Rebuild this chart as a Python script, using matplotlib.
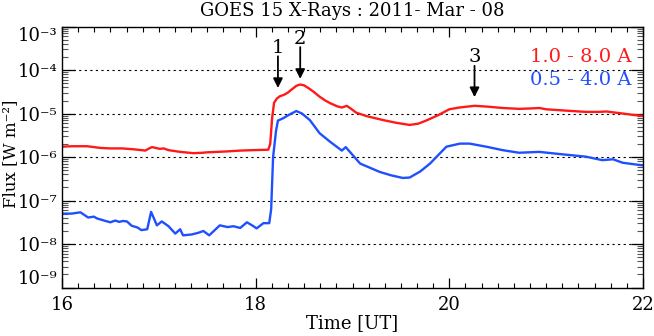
import numpy as np
import matplotlib
matplotlib.use("Agg")
import matplotlib.pyplot as plt
from matplotlib.ticker import MultipleLocator, LogLocator, FixedLocator, NullFormatter

plt.rcParams['font.family'] = ['DejaVu Serif']
plt.rcParams['mathtext.fontset'] = 'dejavuserif'

# 1.0 - 8.0 A channel (time in UT hours, log10 flux)
red_time = [16.00, 16.10, 16.26, 16.40, 16.50, 16.62, 16.74, 16.86, 16.90, 16.93,
            16.97, 17.01, 17.05, 17.10, 17.22, 17.36, 17.45, 17.50, 17.60, 17.70,
            17.84, 17.97, 18.13, 18.15, 18.17, 18.19, 18.22, 18.25, 18.29, 18.33,
            18.38, 18.42, 18.46, 18.50, 18.55, 18.60, 18.66, 18.72, 18.77, 18.84,
            18.89, 18.94, 18.98, 19.04, 19.15, 19.32, 19.45, 19.59, 19.68, 19.76,
            19.88, 20.00, 20.10, 20.26, 20.40, 20.55, 20.72, 20.85, 20.93, 21.00,
            21.20, 21.41, 21.55, 21.62, 21.69, 21.80, 21.90, 22.00]
red_log10 = [-5.76, -5.75, -5.75, -5.79, -5.80, -5.80, -5.82, -5.85, -5.80, -5.77,
             -5.79, -5.81, -5.80, -5.84, -5.88, -5.91, -5.90, -5.89, -5.88, -5.87,
             -5.85, -5.84, -5.83, -5.70, -5.10, -4.75, -4.65, -4.60, -4.57, -4.52,
             -4.43, -4.36, -4.33, -4.35, -4.42, -4.50, -4.61, -4.70, -4.76, -4.83,
             -4.86, -4.82, -4.88, -4.98, -5.06, -5.15, -5.21, -5.26, -5.23, -5.16,
             -5.04, -4.90, -4.86, -4.82, -4.84, -4.87, -4.89, -4.88, -4.87, -4.90,
             -4.93, -4.96, -4.96, -4.95, -4.97, -5.00, -5.03, -5.05]

# 0.5 - 4.0 A channel
blue_time = [16.00, 16.10, 16.19, 16.27, 16.33, 16.36, 16.45, 16.50, 16.55, 16.59,
             16.63, 16.67, 16.72, 16.78, 16.82, 16.88, 16.92, 16.98, 17.03, 17.10,
             17.17, 17.22, 17.25, 17.34, 17.41, 17.46, 17.52, 17.63, 17.71, 17.77,
             17.84, 17.91, 17.97, 18.01, 18.08, 18.14, 18.16, 18.18, 18.21, 18.23,
             18.28, 18.35, 18.42, 18.48, 18.56, 18.66, 18.77, 18.89, 18.93, 19.04,
             19.08, 19.28, 19.40, 19.52, 19.59, 19.70, 19.80, 19.97, 20.11, 20.21,
             20.38, 20.55, 20.72, 20.93, 21.14, 21.41, 21.58, 21.69, 21.79, 21.96,
             22.00]
blue_log10 = [-7.30, -7.30, -7.27, -7.39, -7.37, -7.41, -7.47, -7.50, -7.46, -7.49,
              -7.47, -7.48, -7.58, -7.62, -7.68, -7.66, -7.26, -7.57, -7.48, -7.59,
              -7.76, -7.66, -7.80, -7.78, -7.74, -7.70, -7.80, -7.57, -7.61, -7.59,
              -7.63, -7.50, -7.58, -7.64, -7.52, -7.52, -7.20, -6.00, -5.40, -5.16,
              -5.11, -5.02, -4.94, -5.00, -5.15, -5.45, -5.65, -5.85, -5.77, -6.05,
              -6.15, -6.34, -6.42, -6.48, -6.47, -6.33, -6.15, -5.76, -5.69, -5.69,
              -5.76, -5.84, -5.90, -5.88, -5.93, -5.99, -6.07, -6.05, -6.13, -6.18,
              -6.19]

# annotations: label, time, text level, arrow tail, arrow tip (log10 flux)
ann_labels = ['1', '2', '3']
ann_time = [18.23, 18.46, 20.26]
ann_text_log = [-3.49, -3.28, -3.70]
ann_tail_log = [-3.68, -3.47, -3.90]
ann_tip_log = [-4.41, -4.20, -4.62]

x_ticks = [16, 18, 20, 22]
y_ticks = [1e-9, 1e-8, 1e-7, 1e-6, 1e-5, 1e-4, 1e-3]
y_tick_labels = ['10\u207b\u2079', '10\u207b\u2078', '10\u207b\u2077', '10\u207b\u2076',
                 '10\u207b\u2075', '10\u207b\u2074', '10\u207b\u00b3']

RED = '#ff1a1a'
BLUE = '#1f4fff'

fig = plt.figure(figsize=(6.54, 3.36), dpi=100)
ax = fig.add_axes([62/654, 1-287.5/336, 581/654, 260.8/336])

ax.plot(red_time, 10**np.array(red_log10), color=RED, lw=1.7)
ax.plot(blue_time, 10**np.array(blue_log10), color=BLUE, lw=1.7)

ax.set_yscale('log')
ax.set_xlim(16, 22)
ax.set_ylim(1e-9, 1e-3)

ax.xaxis.set_major_locator(FixedLocator(x_ticks))
ax.xaxis.set_minor_locator(MultipleLocator(1/6))
ax.set_xticklabels([str(v) for v in x_ticks])
ax.yaxis.set_major_locator(FixedLocator(y_ticks))
ax.yaxis.set_minor_locator(LogLocator(base=10, subs=np.arange(2, 10), numticks=20))
ax.yaxis.set_minor_formatter(NullFormatter())
ax.set_yticklabels(y_tick_labels)

ax.tick_params(which='both', direction='in', top=True, right=True, colors='k')
ax.tick_params(axis='x', which='major', length=7, width=0.9, pad=6, labelsize=13)
ax.tick_params(axis='x', which='minor', length=3.5, width=0.8)
ax.tick_params(axis='y', which='major', length=9, width=0.9, pad=3, labelsize=13)
ax.tick_params(axis='y', which='minor', length=4.5, width=0.8, color='#555555')

for lab in ax.get_yticklabels():
    t = lab.get_text()
    if t.endswith('\u2079'):
        lab.set_va('bottom')
    elif t.endswith('\u00b3'):
        lab.set_va('top')
    else:
        lab.set_va('center_baseline')

for yv in y_ticks[1:-1]:
    ax.axhline(yv, color='k', lw=0.8, ls=(0, (2, 3)), zorder=0)

for s in ax.spines.values():
    s.set_linewidth(1.0)

for lab, t, ytxt, ytail, ytip in zip(ann_labels, ann_time, ann_text_log, ann_tail_log, ann_tip_log):
    ax.text(t, 10**ytxt, lab, ha='center', va='center', fontsize=14, color='k')
    ax.annotate('', xy=(t, 10**ytip), xytext=(t, 10**ytail),
                arrowprops=dict(arrowstyle='-|>', color='k', lw=1.3, mutation_scale=14,
                                shrinkA=0, shrinkB=0))

ax.text(0.9805, 0.884, '1.0 - 8.0 A', color=RED, fontsize=14, ha='right', va='center',
        transform=ax.transAxes)
ax.text(0.9805, 0.796, '0.5 - 4.0 A', color=BLUE, fontsize=14, ha='right', va='center',
        transform=ax.transAxes)

fig.text(352/654, 1-11/336, 'GOES 15 X-Rays : 2011- Mar - 08', ha='center', va='center', fontsize=13)
fig.text(352/654, 1-323/336, 'Time [UT]', ha='center', va='center', fontsize=13)
fig.text(11/654, 1-154/336, 'Flux [W m\u207b\u00b2]', ha='center', va='center', rotation=90, fontsize=12)

fig.savefig('out.png', dpi=100)
